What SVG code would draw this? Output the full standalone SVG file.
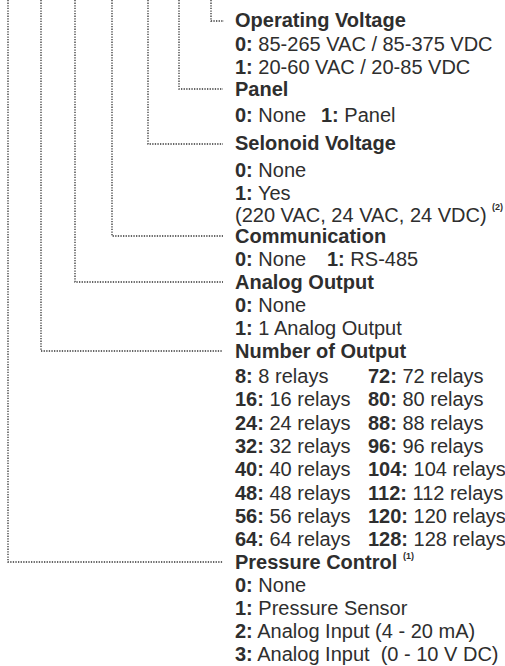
<svg xmlns="http://www.w3.org/2000/svg" width="505" height="666" viewBox="0 0 505 666">
<style>
text{font-family:"Liberation Sans",Arial,sans-serif;font-size:20px;fill:#2e2e2e}
.b{font-weight:bold}
.sup{font-size:9px;font-weight:bold}
.c{fill:none;stroke:#333;stroke-width:1.3;stroke-dasharray:1.3 1.3}
</style>
<rect width="505" height="666" fill="#fff"/>
<g id="connectors">
<path class="c" d="M211 0V21H224"/>
<path class="c" d="M179 0V89H223"/>
<path class="c" d="M148 0V144H223"/>
<path class="c" d="M112 0V236H223"/>
<path class="c" d="M75 0V282H223"/>
<path class="c" d="M41 0V351H223"/>
<path class="c" d="M8 0V562H223"/>
</g>
<g id="operating-voltage">
<text x="235" y="27" class="b">Operating Voltage</text>
<text x="235" y="51"><tspan class="b">0:</tspan> 85-265 VAC / 85-375 VDC</text>
<text x="235" y="74"><tspan class="b">1:</tspan> 20-60 VAC / 20-85 VDC</text>
</g>
<g id="panel">
<text x="235" y="96" class="b">Panel</text>
<text x="235" y="122"><tspan class="b">0:</tspan> None</text>
<text x="321" y="122"><tspan class="b">1:</tspan> Panel</text>
</g>
<g id="selonoid-voltage">
<text x="235" y="150" class="b">Selonoid Voltage</text>
<text x="235" y="177"><tspan class="b">0:</tspan> None</text>
<text x="235" y="200"><tspan class="b">1:</tspan> Yes</text>
<text x="235" y="222">(220 VAC, 24 VAC, 24 VDC)</text>
<text x="492" y="210" class="sup">(2)</text>
</g>
<g id="communication">
<text x="235" y="243" class="b">Communication</text>
<text x="235" y="266"><tspan class="b">0:</tspan> None</text>
<text x="327" y="266"><tspan class="b">1:</tspan> RS-485</text>
</g>
<g id="analog-output">
<text x="235" y="289" class="b">Analog Output</text>
<text x="235" y="312"><tspan class="b">0:</tspan> None</text>
<text x="235" y="335"><tspan class="b">1:</tspan> 1 Analog Output</text>
</g>
<g id="number-of-output">
<text x="235" y="358" class="b">Number of Output</text>
<text x="235" y="383"><tspan class="b">8:</tspan> 8 relays</text>
<text x="235" y="406.3"><tspan class="b">16:</tspan> 16 relays</text>
<text x="235" y="429.6"><tspan class="b">24:</tspan> 24 relays</text>
<text x="235" y="452.9"><tspan class="b">32:</tspan> 32 relays</text>
<text x="235" y="476.2"><tspan class="b">40:</tspan> 40 relays</text>
<text x="235" y="499.5"><tspan class="b">48:</tspan> 48 relays</text>
<text x="235" y="522.8"><tspan class="b">56:</tspan> 56 relays</text>
<text x="235" y="546.1"><tspan class="b">64:</tspan> 64 relays</text>
<text x="368" y="383"><tspan class="b">72:</tspan> 72 relays</text>
<text x="368" y="406.3"><tspan class="b">80:</tspan> 80 relays</text>
<text x="368" y="429.6"><tspan class="b">88:</tspan> 88 relays</text>
<text x="368" y="452.9"><tspan class="b">96:</tspan> 96 relays</text>
<text x="368" y="476.2"><tspan class="b">104:</tspan> 104 relays</text>
<text x="368" y="499.5"><tspan class="b">112:</tspan> 112 relays</text>
<text x="368" y="522.8"><tspan class="b">120:</tspan> 120 relays</text>
<text x="368" y="546.1"><tspan class="b">128:</tspan> 128 relays</text>
</g>
<g id="pressure-control">
<text x="235" y="569" class="b">Pressure Control</text>
<text x="403" y="558.5" class="sup">(1)</text>
<text x="235" y="592"><tspan class="b">0:</tspan> None</text>
<text x="235" y="615"><tspan class="b">1:</tspan> Pressure Sensor</text>
<text x="235" y="638"><tspan class="b">2:</tspan> Analog Input (4 - 20 mA)</text>
<text x="235" y="661"><tspan class="b">3:</tspan> Analog Input &#160;(0 - 10 V DC)</text>
</g>
</svg>
